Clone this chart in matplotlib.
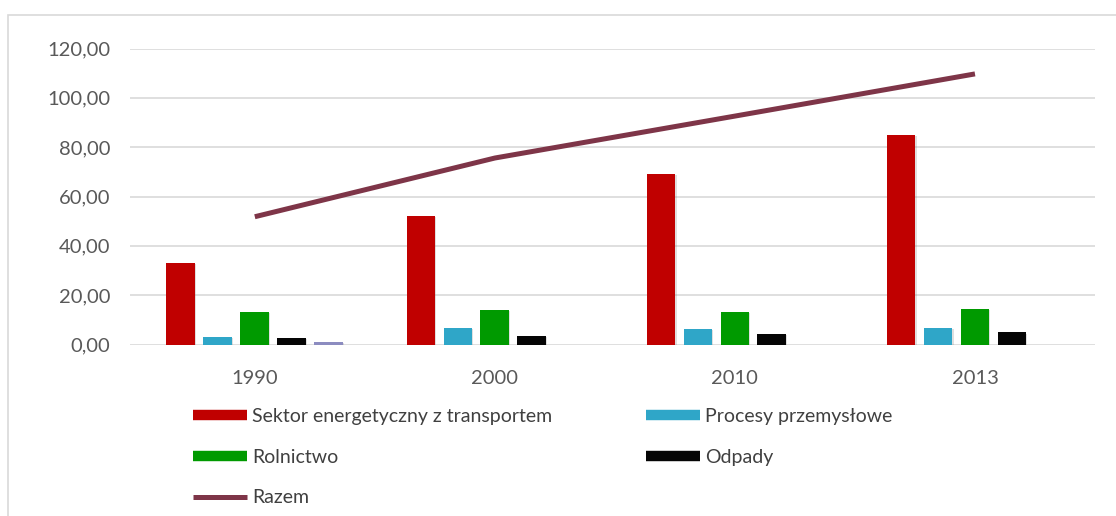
import numpy as np
import matplotlib.pyplot as plt
from matplotlib.lines import Line2D
from matplotlib.patches import Rectangle
import matplotlib.patheffects as pe

plt.rcParams['font.family'] = ['Lato', 'DejaVu Sans']

years = ['1990', '2000', '2010', '2013']
energetyka = [32.9, 52.1, 69.1, 84.9]
procesy = [3.2, 6.6, 6.2, 6.8]
rolnictwo = [13.1, 14.0, 13.3, 14.3]
odpady = [2.8, 3.4, 4.1, 4.9]
inne = [1.0, 0.0, 0.0, 0.0]
razem = [51.8, 75.6, 92.6, 109.7]

series = [
    (energetyka, '#C00000', 'Sektor energetyczny z transportem'),
    (procesy, '#2FA6C8', 'Procesy przemysłowe'),
    (rolnictwo, '#009A00', 'Rolnictwo'),
    (odpady, '#050505', 'Odpady'),
    (inne, '#8C8CC0', None),
]

fig = plt.figure(figsize=(11.16, 5.16), dpi=100)
ax = fig.add_axes([130 / 1116, 1 - 344.5 / 516, 965 / 1116, 296 / 516])

x = np.arange(len(years))
step = 0.154
width = 0.12
shadow = [pe.SimplePatchShadow(offset=(0.8, -0.8), alpha=0.25, shadow_rgbFace='#808080'), pe.Normal()]
for i, (vals, color, label) in enumerate(series):
    bars = ax.bar(x + (i - 2) * step, vals, width, color=color, zorder=3)
    for b in bars:
        b.set_path_effects(shadow)

ax.plot(x, razem, color='#7E3548', lw=3.6, zorder=4, solid_capstyle='butt')

ax.set_xlim(-0.52, 3.5)
ax.set_ylim(0, 120)
ax.set_yticks(np.arange(0, 121, 20))
ax.set_yticklabels([f'{v:.2f}'.replace('.', ',') for v in np.arange(0, 121, 20)])
ax.set_xticks(x)
ax.set_xticklabels(years)
ax.tick_params(axis='both', length=0, labelsize=14.5, colors='#595959')
ax.tick_params(axis='y', pad=14)
ax.tick_params(axis='x', pad=18)
ax.grid(axis='y', color='#D9D9D9', lw=1.2, zorder=0)
for s in ax.spines.values():
    s.set_visible(False)

handles = [
    Line2D([], [], color='#C00000', lw=7.5, solid_capstyle='butt'),
    Line2D([], [], color='#009A00', lw=7.5, solid_capstyle='butt'),
    Line2D([], [], color='#7E3548', lw=3.6, solid_capstyle='butt'),
    Line2D([], [], color='#2FA6C8', lw=7.5, solid_capstyle='butt'),
    Line2D([], [], color='#050505', lw=7.5, solid_capstyle='butt'),
]
labels = ['Sektor energetyczny z transportem', 'Rolnictwo', 'Razem',
          'Procesy przemysłowe', 'Odpady']
leg = fig.legend(handles, labels, ncol=2, loc='upper left',
                 bbox_to_anchor=(193 / 1116, 1 - 408 / 516), frameon=False,
                 fontsize=14, handlelength=2.8, handletextpad=0.25,
                 labelspacing=1.22, columnspacing=4.8, borderpad=0, borderaxespad=0)
for t in leg.get_texts():
    t.set_color('#404040')

fig.patches.append(Rectangle((8 / 1116, -0.1), 1.2, 1.1 - 15 / 516, transform=fig.transFigure,
                             fill=False, edgecolor='#D9D9D9', lw=1.2))

fig.savefig('out.png', dpi=100)
